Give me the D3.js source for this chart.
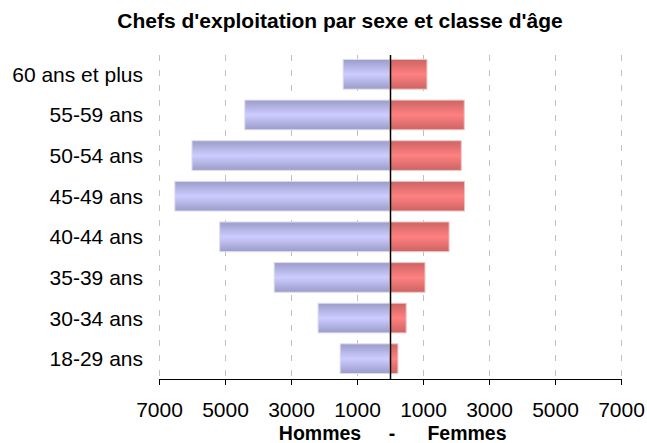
<!DOCTYPE html>
<html lang="fr">
  <head>
    <meta charset="UTF-8">
    <title>Chefs d'exploitation par sexe et classe d'âge</title>
    <style>
      body {
        margin: 0;
        background: white;
        font-family: "Liberation Sans", Arial, sans-serif;
      }
      .grid line {
        stroke: #c0c0c0;
        stroke-width: 1;
        stroke-dasharray: 6, 9;
      }
      .axis-x path,
      .axis-x .tick line {
        stroke: black;
        shape-rendering: crispEdges;
      }
      .axis-x text {
        font-size: 21px;
        fill: black;
      }
      .label {
        font-size: 21px;
        fill: black;
      }
    </style>
    <script src="https://d3js.org/d3.v7.min.js"></script>
  </head>
  <body>
    <script>
      const categories = ["60 ans et plus", "55-59 ans", "50-54 ans", "45-49 ans",
                          "40-44 ans", "35-39 ans", "30-34 ans", "18-29 ans"];
      const hommes = [1420, 4400, 6000, 6520, 5160, 3510, 2180, 1510];
      const femmes = [1120, 2250, 2160, 2260, 1790, 1060, 490, 240];
      const tickValues = [-7000, -5000, -3000, -1000, 1000, 3000, 5000, 7000];

      const width = 647;
      const height = 443;
      const plot = { left: 159, right: 621, top: 54, bottom: 379 };

      const svg = d3.select("body")
        .append("svg")
        .attr("width", width)
        .attr("height", height);

      const defs = svg.append("defs");
      function gradient(id, edge, mid) {
        const g = defs.append("linearGradient")
          .attr("id", id)
          .attr("x1", 0).attr("y1", 0)
          .attr("x2", 0).attr("y2", 1);
        g.append("stop").attr("offset", "0%").attr("stop-color", edge);
        g.append("stop").attr("offset", "50%").attr("stop-color", mid);
        g.append("stop").attr("offset", "100%").attr("stop-color", edge);
      }
      gradient("gradH", "#9c9cca", "#ccccff");
      gradient("gradF", "#cc6464", "#ff8080");

      const x = d3.scaleLinear()
        .domain([-7000, 7000])
        .range([plot.left, plot.right]);

      const y = d3.scaleBand()
        .domain(categories)
        .range([plot.top, plot.bottom])
        .paddingInner(0.27)
        .paddingOuter(0.135);

      // dashed vertical grid
      svg.append("g")
        .attr("class", "grid")
        .selectAll("line")
        .data(tickValues)
        .enter()
        .append("line")
        .attr("x1", d => Math.round(x(d)) + 0.5)
        .attr("x2", d => Math.round(x(d)) + 0.5)
        .attr("y1", plot.top + 1)
        .attr("y2", plot.bottom);

      // bars
      svg.selectAll(".bar-h")
        .data(categories)
        .enter()
        .append("rect")
        .attr("class", "bar-h")
        .attr("x", (d, i) => x(-hommes[i]))
        .attr("y", d => y(d))
        .attr("width", (d, i) => x(0) - x(-hommes[i]))
        .attr("height", y.bandwidth())
        .attr("fill", "url(#gradH)")
        .attr("stroke", "#dcdcf0")
        .attr("stroke-width", 1);

      svg.selectAll(".bar-f")
        .data(categories)
        .enter()
        .append("rect")
        .attr("class", "bar-f")
        .attr("x", x(0))
        .attr("y", d => y(d))
        .attr("width", (d, i) => x(femmes[i]) - x(0))
        .attr("height", y.bandwidth())
        .attr("fill", "url(#gradF)")
        .attr("stroke", "#f2c4c4")
        .attr("stroke-width", 1);

      // centre line
      svg.append("line")
        .attr("x1", Math.round(x(0)) + 0.5)
        .attr("x2", Math.round(x(0)) + 0.5)
        .attr("y1", plot.top + 1)
        .attr("y2", plot.bottom)
        .attr("stroke", "black")
        .attr("stroke-width", 1.5);

      // category labels
      svg.selectAll(".label")
        .data(categories)
        .enter()
        .append("text")
        .attr("class", "label")
        .attr("text-anchor", "end")
        .attr("x", 143)
        .attr("y", d => y(d) + y.bandwidth() / 2 + 7.5)
        .text(d => d);

      // x axis
      svg.append("g")
        .attr("class", "axis-x")
        .attr("transform", `translate(0, ${plot.bottom})`)
        .call(d3.axisBottom(x)
          .tickValues(tickValues)
          .tickSize(6)
          .tickSizeOuter(0)
          .tickPadding(17)
          .tickFormat(d => Math.abs(d)))
        .call(g => g.selectAll("text").attr("font-family", null));

      // title
      svg.append("text")
        .attr("x", 340)
        .attr("y", 28)
        .attr("text-anchor", "middle")
        .attr("font-weight", "bold")
        .attr("font-size", "21px")
        .text("Chefs d'exploitation par sexe et classe d'âge");

      // axis title
      const axisTitle = [["Hommes", 320], ["-", 392], ["Femmes", 467]];
      svg.selectAll(".axis-title")
        .data(axisTitle)
        .enter()
        .append("text")
        .attr("class", "axis-title")
        .attr("x", d => d[1])
        .attr("y", 440)
        .attr("text-anchor", "middle")
        .attr("font-weight", "bold")
        .attr("font-size", "19.5px")
        .text(d => d[0]);
    </script>
  </body>
</html>
